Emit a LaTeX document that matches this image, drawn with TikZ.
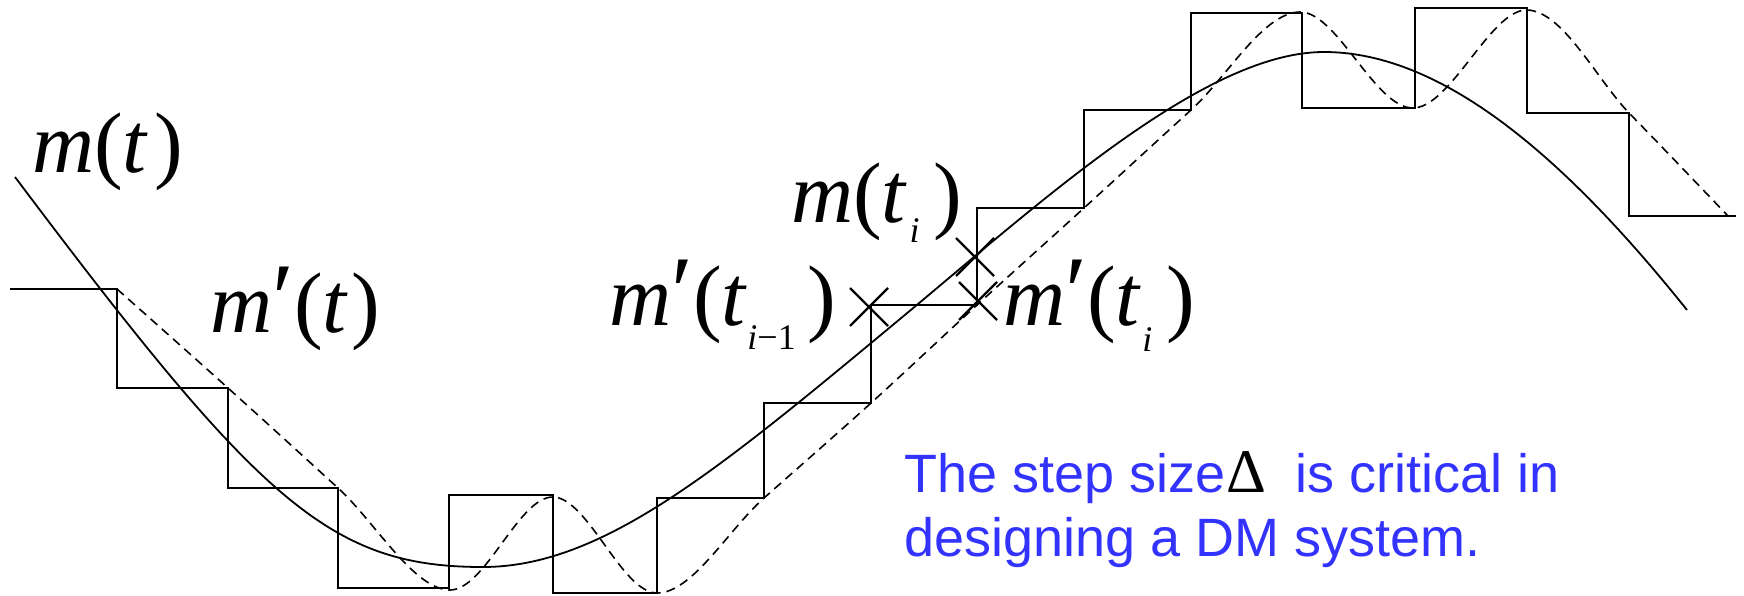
\documentclass[tikz,border=0pt]{standalone}
\usepackage{fontspec}
\newfontfamily\tnr{Liberation Serif}
\newfontfamily\arl{Liberation Sans}
\definecolor{txtblue}{RGB}{51,51,255}
\newcommand\subsz{\fontsize{36}{36}\selectfont}
\newcommand\myprime{{\fontsize{100}{100}\selectfont\char"2032}}
\begin{document}
\begin{tikzpicture}[x=1pt,y=-1pt,
  stair/.style={line width=1.8pt, line join=miter},
  recon/.style={dash pattern=on 9pt off 6pt, line width=1.6pt},
  sig/.style={line width=1.8pt},
  lbl/.style={font=\tnr\fontsize{86}{86}\selectfont, inner sep=0pt, anchor=base west},
  blue text/.style={font=\arl\fontsize{54}{54}\selectfont, text=txtblue, inner sep=0pt, anchor=base west},
  cross/.style={line width=2.4pt}]
\useasboundingbox (0,0) rectangle (1744,595);
% staircase approximation m'(t)
\draw[stair] (10,289) -- (117,289) -- (117,388) -- (228,388) -- (228,488) -- (338,488) -- (338,588) -- (449,588) -- (449,495) -- (553,495) -- (553,593) -- (657,593) -- (657,498) -- (764,498) -- (764,403) -- (871,403) -- (871,305) -- (977,305) -- (977,208) -- (1084,208) -- (1084,110) -- (1191,110) -- (1191,13) -- (1302,13) -- (1302,108) -- (1415,108) -- (1415,8) -- (1527,8) -- (1527,113) -- (1629,113) -- (1629,216) -- (1736,216);
% dashed reconstruction
\draw[recon] plot[smooth, tension=0.6] coordinates {(117,289) (228,388) (338,488) (449,590) (553,497) (657,593) (764,498) (871,403) (977,305) (1084,208) (1191,110) (1300,12) (1413,108) (1527,10) (1630,114) (1728,216)};
% message signal m(t)
\draw[sig] (15,177) .. controls (260,503) and (330,567) .. (483,567)
  .. controls (603,567) and (720,468.4) .. (900,319)
  .. controls (1040,202.8) and (1204,52) .. (1324,52)
  .. controls (1444,52) and (1567,160) .. (1687,310);
% cross marks
\coordinate (xa) at (869,307);
\coordinate (xb) at (975,257);
\coordinate (xc) at (978,301);
\foreach \c in {xa,xb,xc}
  \draw[cross] (\c) ++(-19,-19) -- ++(38,38) (\c) ++(-19,19) -- ++(38,-38);
% labels
\node[lbl] (lmt) at (32,172) {\textit{m}(\textit{t}\kern6pt)};
\node[lbl] (lmpt) at (210,332) {\textit{m}\myprime(\textit{t}\kern3pt)};
\node[lbl] (lmti) at (791,222) {\textit{m}(\textit{t}\kern2pt\raisebox{-20pt}{\subsz\textit{i}}\kern14pt)};
\node[lbl] (lmpti1) at (609,325) {\textit{m}\myprime(\textit{t}\raisebox{-24pt}{\subsz\textit{i}−1}\kern12pt)};
\node[lbl] (lmpti) at (1003,325) {\textit{m}\myprime(\textit{t}\kern1pt\raisebox{-26pt}{\subsz\textit{i}}\kern14pt)};
% blue note
\node[blue text] (note1) at (904,492) {The step size\kern1pt{\tnr\fontsize{62}{62}\selectfont\color{black}Δ}\kern14pt\ is critical in};
\node[blue text] (note2) at (904,556) {designing a DM system.};
\end{tikzpicture}
\end{document}
